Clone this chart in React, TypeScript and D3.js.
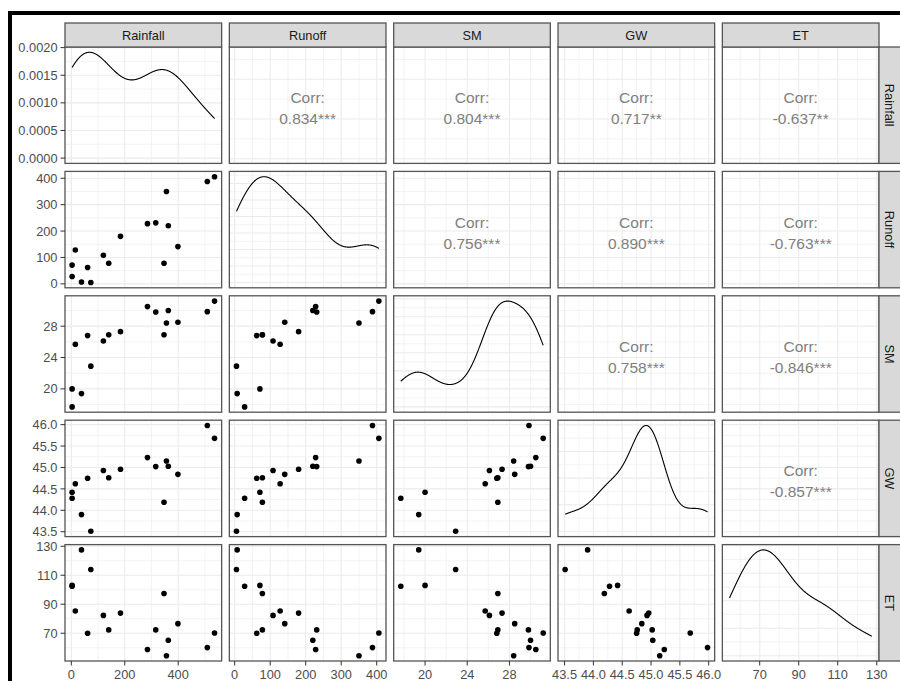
import React from 'react';
import * as d3 from 'd3';

// Variables in the matrix, in order
const variables = ['Rainfall', 'Runoff', 'SM', 'GW', 'ET'];

// Observations (one entry per station / year)
const rainfall = [3, 3, 15, 38, 61, 73, 120, 140, 184, 285, 316, 347, 356, 363, 399, 509, 536];
const runoff = [71, 28, 128, 7, 62, 5, 108, 78, 180, 228, 231, 78, 350, 220, 141, 388, 406];
const sm = [20.0, 17.7, 25.7, 19.4, 26.8, 22.9, 26.1, 26.9, 27.3, 30.5, 29.8, 26.9, 28.4, 30.0, 28.5, 29.85, 31.2];
const gw = [44.42, 44.28, 44.62, 43.9, 44.75, 43.51, 44.93, 44.76, 44.96, 45.23, 45.02, 44.19, 45.15, 45.03, 44.84, 45.98, 45.68];
const et = [103, 102.4, 85.3, 127.5, 70, 114, 82.3, 72.3, 83.9, 58.8, 72.3, 97.4, 54.5, 65.2, 76.6, 60.1, 70.2];

// Axis breaks
const rainfallTicks = [0, 200, 400];
const runoffTicks = [0, 100, 200, 300, 400];
const smTicks = [20, 24, 28];
const gwTicks = [43.5, 44.0, 44.5, 45.0, 45.5, 46.0];
const etTicks = [70, 90, 110, 130];
const densityTicks = [0, 0.0005, 0.001, 0.0015, 0.002];

// Pearson correlations for the upper triangle (row-major) and significance stars
const corrValues = [0.834, 0.804, 0.717, -0.637, 0.756, 0.890, -0.763, 0.758, -0.846, -0.857];
const corrStars = ['***', '***', '**', '**', '***', '***', '***', '***', '***', '***'];

const series = [rainfall, runoff, sm, gw, et];
const ticks = [rainfallTicks, runoffTicks, smTicks, gwTicks, etTicks];
const tickFormats = [
  (v: number) => String(v),
  (v: number) => String(v),
  (v: number) => String(v),
  (v: number) => v.toFixed(1),
  (v: number) => String(v),
];

const W = 900;
const H = 681;
const LEFT = 65;
const RIGHT = 879;
const TOP = 47;
const BOTTOM = 661;
const GAP_X = 7.7;
const GAP_Y = 8;
const N = variables.length;
const PW = (RIGHT - LEFT - (N - 1) * GAP_X) / N;
const PH = (BOTTOM - TOP - (N - 1) * GAP_Y) / N;
const STRIP = 24;
const TICK = 4.5;

const FONT = '"Liberation Sans", Arial, sans-serif';
const AXIS_COL = '#4D4D4D';
const GRID = '#EBEBEB';
const BORDER = '#555555';

function expand([lo, hi]: [number, number]): [number, number] {
  const r = hi - lo;
  return [lo - 0.05 * r, hi + 0.05 * r];
}

// Gaussian kernel density, bandwidth by Silverman's rule (bw.nrd0)
function kde(values: number[], n = 512): [number, number][] {
  const sorted = values.slice().sort(d3.ascending);
  const sd = d3.deviation(values) as number;
  const iqr = (d3.quantile(sorted, 0.75) as number) - (d3.quantile(sorted, 0.25) as number);
  const lo = Math.min(sd, iqr / 1.34) || sd;
  const bw = 0.9 * lo * Math.pow(values.length, -0.2);
  const [mn, mx] = d3.extent(values) as [number, number];
  return d3.range(n).map((i) => {
    const x = mn + ((mx - mn) * i) / (n - 1);
    const y =
      d3.mean(values, (v) => Math.exp(-0.5 * ((x - v) / bw) ** 2) / Math.sqrt(2 * Math.PI)) as number;
    return [x, y / bw];
  });
}

function minorBreaks(major: number[], domain: [number, number]): number[] {
  const step = major[1] - major[0];
  const ext = [major[0] - step, ...major, major[major.length - 1] + step];
  const out: number[] = [];
  for (let i = 0; i < ext.length - 1; i++) {
    const m = (ext[i] + ext[i + 1]) / 2;
    if (m >= domain[0] && m <= domain[1]) out.push(m);
  }
  return out;
}

const domains = series.map((s) => expand(d3.extent(s) as [number, number]));
const densities = series.map((s) => kde(s));

export default function App() {
  const panels: React.ReactNode[] = [];
  let corrIdx = 0;

  for (let i = 0; i < N; i++) {
    for (let j = 0; j < N; j++) {
      const x0 = LEFT + j * (PW + GAP_X);
      const y0 = TOP + i * (PH + GAP_Y);
      const xs = d3.scaleLinear().domain(domains[j]).range([x0, x0 + PW]);
      const xMajor = ticks[j].filter((t) => t >= domains[j][0] && t <= domains[j][1]);
      const xMinor = minorBreaks(ticks[j], domains[j]);

      let ys: d3.ScaleLinear<number, number>;
      let yMajor: number[];
      let yMinor: number[];
      let yLabel: (v: number) => string;
      const isDiag = i === j;
      if (isDiag) {
        const maxD = d3.max(densities[j], (d) => d[1]) as number;
        const dDom = expand([0, maxD]);
        ys = d3.scaleLinear().domain(dDom).range([y0 + PH, y0]);
        const dt = i === 0 ? densityTicks : ys.ticks(5);
        yMajor = dt.filter((t) => t >= dDom[0] && t <= dDom[1]);
        yMinor = minorBreaks(dt, dDom);
        yLabel = (v) => v.toFixed(4);
      } else {
        ys = d3.scaleLinear().domain(domains[i]).range([y0 + PH, y0]);
        yMajor = ticks[i].filter((t) => t >= domains[i][0] && t <= domains[i][1]);
        yMinor = minorBreaks(ticks[i], domains[i]);
        yLabel = tickFormats[i];
      }

      const content: React.ReactNode[] = [];
      if (isDiag) {
        const line = d3
          .line<[number, number]>()
          .x((d) => xs(d[0]))
          .y((d) => ys(d[1]))
          .curve(d3.curveLinear);
        content.push(
          <path key="dens" d={line(densities[j]) as string} fill="none" stroke="#000" strokeWidth={1.1} />
        );
      } else if (i > j) {
        series[j].forEach((v, k) => {
          content.push(<circle key={'p' + k} cx={xs(v)} cy={ys(series[i][k])} r={2.8} fill="#000" />);
        });
      } else {
        const r = corrValues[corrIdx];
        const stars = corrStars[corrIdx];
        corrIdx++;
        const cx = x0 + PW / 2;
        const cy = y0 + PH / 2;
        content.push(
          <text key="c1" x={cx} y={cy - 2} textAnchor="middle" fontSize={15.5} fill="#808080" fontFamily={FONT}>
            Corr:
          </text>,
          <text key="c2" x={cx} y={cy + 19} textAnchor="middle" fontSize={15.5} fill="#808080" fontFamily={FONT}>
            {r.toFixed(3) + stars}
          </text>
        );
      }

      panels.push(
        <g key={`panel-${i}-${j}`}>
          <rect x={x0} y={y0} width={PW} height={PH} fill="#fff" />
          {xMinor.map((t) => (
            <line key={'xm' + t} x1={xs(t)} x2={xs(t)} y1={y0} y2={y0 + PH} stroke={GRID} strokeWidth={0.6} />
          ))}
          {yMinor.map((t) => (
            <line key={'ym' + t} x1={x0} x2={x0 + PW} y1={ys(t)} y2={ys(t)} stroke={GRID} strokeWidth={0.6} />
          ))}
          {xMajor.map((t) => (
            <line key={'xM' + t} x1={xs(t)} x2={xs(t)} y1={y0} y2={y0 + PH} stroke={GRID} strokeWidth={1.1} />
          ))}
          {yMajor.map((t) => (
            <line key={'yM' + t} x1={x0} x2={x0 + PW} y1={ys(t)} y2={ys(t)} stroke={GRID} strokeWidth={1.1} />
          ))}
          {content}
          <rect x={x0} y={y0} width={PW} height={PH} fill="none" stroke={BORDER} strokeWidth={1.3} />
          {j === 0 &&
            yMajor.map((t) => (
              <g key={'yl' + t}>
                <line x1={x0 - TICK} x2={x0} y1={ys(t)} y2={ys(t)} stroke="#333" strokeWidth={1} />
                <text
                  x={x0 - TICK - 3}
                  y={ys(t)}
                  dy="0.36em"
                  textAnchor="end"
                  fontSize={12.8}
                  fill={AXIS_COL}
                  fontFamily={FONT}
                >
                  {yLabel(t)}
                </text>
              </g>
            ))}
          {i === N - 1 &&
            xMajor.map((t) => (
              <g key={'xl' + t}>
                <line x1={xs(t)} x2={xs(t)} y1={y0 + PH} y2={y0 + PH + TICK} stroke="#333" strokeWidth={1} />
                <text x={xs(t)} y={y0 + PH + TICK + 13} textAnchor="middle" fontSize={12.8} fill={AXIS_COL} fontFamily={FONT}>
                  {tickFormats[j](t)}
                </text>
              </g>
            ))}
        </g>
      );
    }
  }

  const strips: React.ReactNode[] = [];
  variables.forEach((name, k) => {
    const x0 = LEFT + k * (PW + GAP_X);
    const y0 = TOP + k * (PH + GAP_Y);
    strips.push(
      <g key={'ts' + k}>
        <rect x={x0} y={TOP - STRIP} width={PW} height={STRIP} fill="#D9D9D9" stroke={BORDER} strokeWidth={1.3} />
        <text
          x={x0 + PW / 2}
          y={TOP - STRIP / 2}
          dy="0.36em"
          textAnchor="middle"
          fontSize={12.8}
          fill="#1A1A1A"
          fontFamily={FONT}
        >
          {name}
        </text>
      </g>,
      <g key={'rs' + k}>
        <rect x={RIGHT} y={y0} width={STRIP} height={PH} fill="#D9D9D9" stroke={BORDER} strokeWidth={1.3} />
        <text
          transform={`translate(${RIGHT + STRIP / 2 - 1.5},${y0 + PH / 2}) rotate(90)`}
          dy="0.36em"
          textAnchor="middle"
          fontSize={12.8}
          fill="#1A1A1A"
          fontFamily={FONT}
        >
          {name}
        </text>
      </g>
    );
  });

  return (
    <svg
      width={W}
      height={H}
      viewBox={`0 0 ${W} ${H}`}
      style={{ position: 'absolute', left: 0, top: 0, display: 'block' }}
    >
      <rect x={0} y={0} width={W} height={H} fill="#fff" />
      {panels}
      {strips}
      <line x1={8} x2={W} y1={13} y2={13} stroke="#000" strokeWidth={4} />
      <line x1={10} x2={10} y1={11} y2={H} stroke="#000" strokeWidth={4} />
    </svg>
  );
}
